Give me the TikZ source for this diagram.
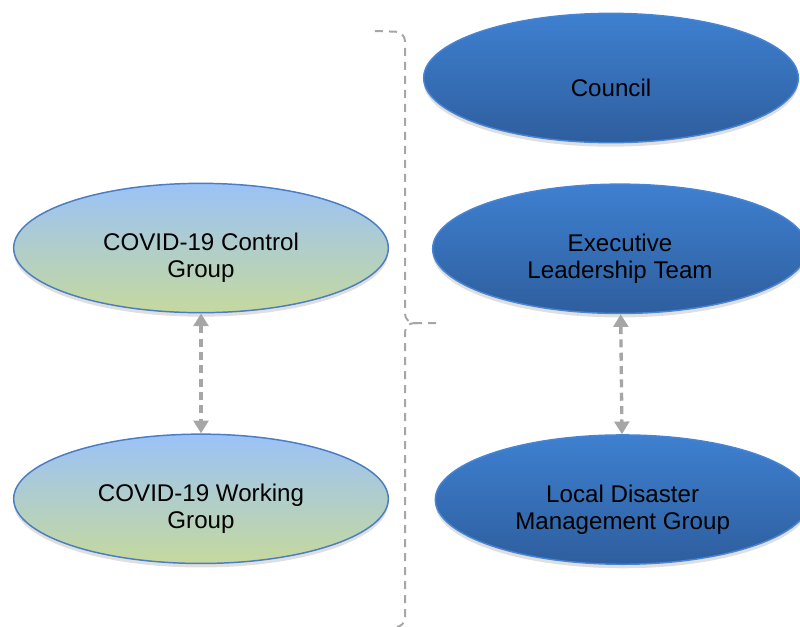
\documentclass[tikz,border=0pt]{standalone}
\usepackage{fontspec}
\setmainfont{Liberation Sans}
\usepackage{tikz}
\usetikzlibrary{arrows.meta, positioning, shapes.geometric, shadows}
\definecolor{skyblue}{RGB}{155, 194, 248}
\definecolor{sagegreen}{RGB}{197, 217, 157}
\definecolor{paleedge}{RGB}{74, 126, 192}
\definecolor{deepblue}{RGB}{62, 128, 208}
\definecolor{deepbluedark}{RGB}{46, 94, 158}
\definecolor{deepedge}{RGB}{72, 132, 212}
\definecolor{linkgray}{RGB}{166, 166, 166}
\newcommand{\lift}{\rule{0pt}{28pt}}

\begin{document}
\begin{tikzpicture}[x=0.75pt, y=-0.75pt, >=Stealth,
   group/.style={ellipse, inner sep=0pt, minimum width=281pt, minimum height=97pt,
                 align=center, font=\fontsize{18.1}{20.4}\selectfont, line width=1.1pt,
                 drop shadow={shadow xshift=0pt, shadow yshift=-3pt, opacity=0.25}},
   covid/.style={group, draw=paleedge, top color=skyblue, bottom color=sagegreen},
   civic/.style={group, draw=deepedge, top color=deepblue, bottom color=deepbluedark},
   link/.style={draw=linkgray, line width=2.5pt, dash pattern=on 6pt off 4pt,
                {Triangle[width=11pt, length=9.5pt]}-{Triangle[width=11pt, length=9.5pt]}},
   bracket/.style={draw=linkgray, line width=1.5pt, dash pattern=on 6pt off 4.5pt,
                   rounded corners=7pt}]
  \useasboundingbox (0,0) rectangle (800,626);

  % left column
  \node[covid] (ctrl) at (201,248) {\lift COVID-19 Control\\Group};
  \node[covid, below=90pt of ctrl] (work) {\lift COVID-19 Working\\Group};

  % right column
  \node[civic] (council) at (611,78) {\lift Council};
  \node[civic, below=30pt of council, xshift=6.75pt] (exec) {\lift Executive\\Leadership Team};
  \node[civic, below=90pt of exec, xshift=2pt] (ldmg) {\lift Local Disaster\\Management Group};

  \draw[link] (ctrl) -- (work);
  \draw[link] (exec) -- (ldmg);

  % brace between the columns
  \coordinate (tip) at (437,323);
  \draw[bracket] (375,31) -- (405,32) -- (405,323) -- (tip);
  \draw[bracket] (417,323) -- (405,323) -- (405,627) -- (394,627);
\end{tikzpicture}
\end{document}
